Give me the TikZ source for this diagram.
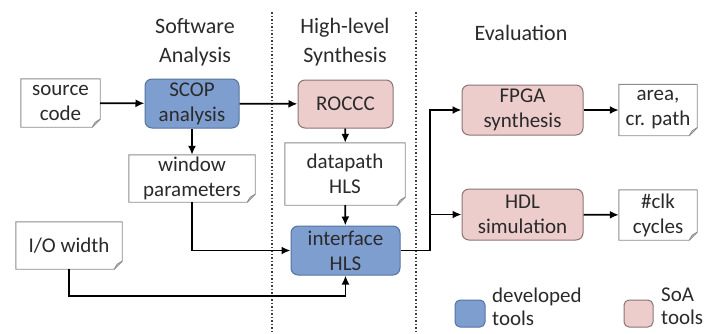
\documentclass[tikz,border=0pt]{standalone}
\usepackage{fontspec}
\setmainfont{Carlito}
\usetikzlibrary{arrows.meta,calc}

\definecolor{devblue}{HTML}{7F9ED0}
\definecolor{devborder}{HTML}{56739F}
\definecolor{soapink}{HTML}{EDCDCC}
\definecolor{soaborder}{HTML}{8A7474}
\definecolor{docborder}{HTML}{8C8C8C}
\definecolor{textgray}{HTML}{2A2A2A}

\tikzset{
  every node/.style={font=\fontsize{21}{25}\selectfont, text=textgray, align=center, inner sep=0pt},
  tool/.style={rounded corners=7pt, line width=1pt},
  devtool/.style={tool, fill=devblue, draw=devborder},
  soatool/.style={tool, fill=soapink, draw=soaborder},
  docfill/.style={fill=white},
  docline/.style={draw=docborder, line width=0.9pt},
  flow/.style={line width=1.8pt, -{Latex[length=9pt,width=8pt]}},
  sep/.style={line width=1.5pt, dotted, black!75},
  title/.style={font=\fontsize{22}{29}\selectfont},
  legendtext/.style={anchor=north west, align=left, font=\fontsize{21}{23}\selectfont},
}

% a document box with a folded lower right corner
\newcommand\docnode[5]{%
  \node[docfill, minimum width=#3, minimum height=#4] (#1) at (#2) {#5};
  \draw[docline] (#1.north west) -- (#1.north east) -- ([yshift=8pt]#1.south east)
    -- ([xshift=-8pt]#1.south east) -- (#1.south west) -- cycle;
  \draw[docline] ([yshift=8pt]#1.south east) -- ([xshift=-5pt,yshift=5pt]#1.south east)
    -- ([xshift=-8pt]#1.south east);
}

\begin{document}
\begin{tikzpicture}[x=1pt, y=-1pt]
\useasboundingbox (0,0) rectangle (709,333);

% column separators
\draw[sep] (272,12) -- (272,333);
\draw[sep] (416,12) -- (416,333);

% column titles
\node[title] (tsw) at (195,42) {Software\\Analysis};
\node[title] (thls) at (345,42) {High-level\\Synthesis};
\node[title] (tev) at (521,33) {Evaluation};

% inputs and intermediate artefacts
\docnode{src}{60.5,103}{79pt}{48pt}{source\\code}
\docnode{win}{192,178.5}{126pt}{47pt}{window\\parameters}
\docnode{dp}{345,174}{120pt}{62pt}{datapath\\HLS}
\docnode{io}{69,245.5}{106pt}{47pt}{I/O width}
\docnode{area}{658,110}{78pt}{51pt}{area,\\cr. path}
\docnode{clk}{658,215}{78pt}{50pt}{\#clk\\cycles}

% tools
\node[devtool, minimum width=94pt, minimum height=49pt] (scop) at (192,103.5) {SCOP\\analysis};
\node[soatool, minimum width=95pt, minimum height=48pt] (roccc) at (345.5,104) {ROCCC};
\node[devtool, minimum width=109pt, minimum height=49pt] (ifc) at (345.5,250.5) {interface\\HLS};
\node[soatool, minimum width=121pt, minimum height=50pt] (fpga) at (522.5,110) {FPGA\\synthesis};
\node[soatool, minimum width=121pt, minimum height=51pt] (hdl) at (522.5,214.5) {HDL\\simulation};

% data flow
\draw[flow] (src) -- (scop);
\draw[flow] (scop) -- (roccc);
\draw[flow] (scop) -- (win);
\draw[flow] (roccc) -- (dp);
\draw[flow] (dp) -- (ifc);
\draw[flow] (win.south) |- (ifc.west);
\draw[flow] (io.south) -- ++(0,27) -| (ifc.south);
\coordinate (split) at (430,250.5);
\draw[line width=1.8pt] (ifc.east) -- (split);
\draw[flow] (split) |- (fpga.west);
\draw[flow] (split) |- (hdl.west);
\draw[flow] (fpga) -- (area);
\draw[flow] (hdl) -- (clk);

% legend
\node[devtool, minimum width=30pt, minimum height=27pt, rounded corners=5pt] (ldev) at (470,313.5) {};
\node[legendtext] (ldevt) at (492,288) {developed\\tools};
\node[soatool, minimum width=29pt, minimum height=27pt, rounded corners=5pt] (lsoa) at (638.5,313.5) {};
\node[legendtext] (lsoat) at (661,288) {SoA\\tools};
\end{tikzpicture}
\end{document}
